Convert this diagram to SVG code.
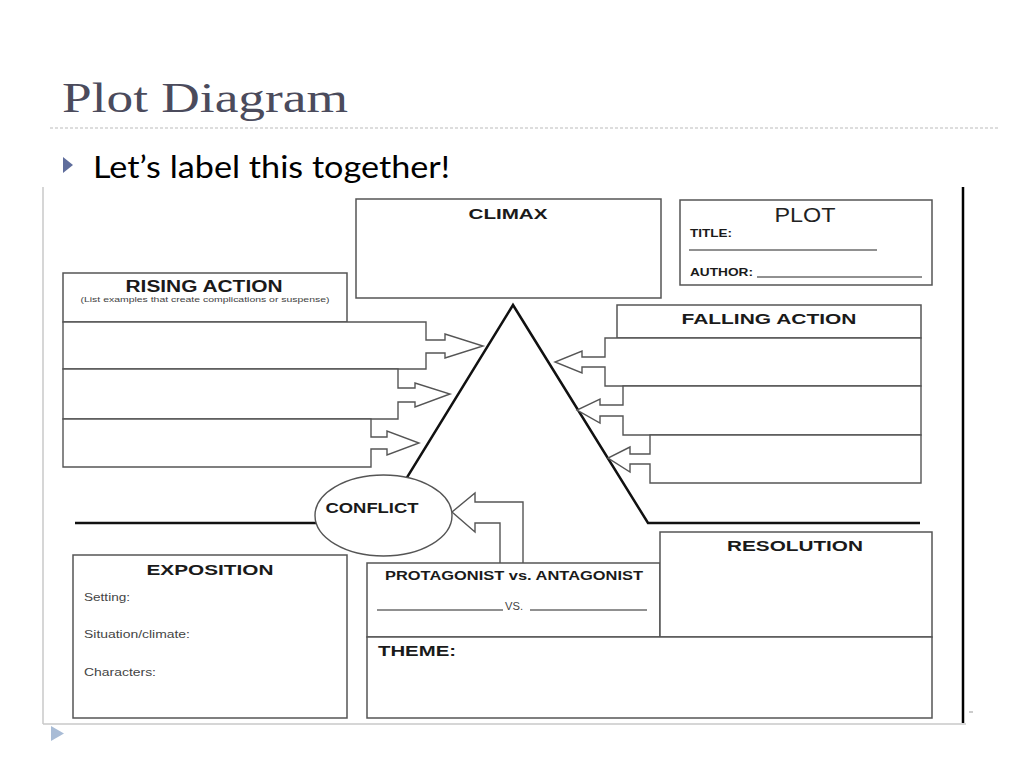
<svg xmlns="http://www.w3.org/2000/svg" width="1024" height="768" viewBox="0 0 1024 768">
<style>
.box{fill:#fff;stroke:#555;stroke-width:1.5}
.row{fill:#fff;stroke:#555;stroke-width:1.4;stroke-linejoin:miter}
.tri{fill:none;stroke:#111;stroke-width:2.5}
.hd{font-family:"Liberation Sans",Arial,sans-serif;font-weight:bold;fill:#1a1a1a}
.sm{font-family:"Liberation Sans",Arial,sans-serif;fill:#444}
.ul{stroke:#222;stroke-width:1}
</style>
<rect width="1024" height="768" fill="#fff"/>
<g id="title">
<text x="62" y="112" font-family="Liberation Serif,serif" font-size="43" fill="#4b4b5c" textLength="286" lengthAdjust="spacingAndGlyphs">Plot Diagram</text>
<line x1="50" y1="128" x2="1000" y2="128" stroke="#bbb" stroke-width="1.2" stroke-dasharray="3,2"/>
<polygon points="63,157 73,165 63,173" fill="#5f6d9c"/>
<text x="93" y="178" font-family="Lato,'Noto Sans',sans-serif" font-size="31" fill="#000" textLength="357" lengthAdjust="spacingAndGlyphs">Let’s label this together!</text>
</g>
<g id="frame">
<line x1="43" y1="187" x2="43" y2="724" stroke="#c8c8c8" stroke-width="1.5"/>
<line x1="43" y1="724" x2="966" y2="724" stroke="#c8c8c8" stroke-width="1.5"/>
<line x1="963" y1="187" x2="963" y2="723" stroke="#000" stroke-width="2.5"/>
<line x1="969" y1="712" x2="973" y2="712" stroke="#999" stroke-width="1"/>
<polygon points="51,726 64,733.5 51,741" fill="#a9bcd6"/>
</g>
<g id="connectors">
<path class="tri" d="M75,523 H379 L513,305 L648,523 H920"/>
<path class="row" d="M523,563 V502 H475 V493 L452,512 L475,532 V523 H500 V563"/>
</g>
<g id="climax">
<rect class="box" x="356" y="199" width="305" height="99"/>
<text class="hd" x="508" y="219" font-size="15" text-anchor="middle" textLength="79" lengthAdjust="spacingAndGlyphs">CLIMAX</text>
</g>
<g id="plot">
<rect class="box" x="680" y="200" width="252" height="85"/>
<text x="805" y="222" font-family="Liberation Sans,Arial,sans-serif" font-size="20" fill="#222" text-anchor="middle" textLength="61" lengthAdjust="spacingAndGlyphs">PLOT</text>
<text class="hd" x="690" y="237" font-size="10" textLength="42" lengthAdjust="spacingAndGlyphs">TITLE:</text>
<line class="ul" x1="689" y1="250" x2="877" y2="250"/>
<text class="hd" x="690" y="276" font-size="10" textLength="63" lengthAdjust="spacingAndGlyphs">AUTHOR:</text>
<line class="ul" x1="757" y1="277" x2="922" y2="277"/>
</g>
<g id="rising-action">
<rect class="box" x="63" y="273" width="284" height="49"/>
<text class="hd" x="204" y="292" font-size="16" text-anchor="middle" textLength="157" lengthAdjust="spacingAndGlyphs">RISING ACTION</text>
<text class="sm" x="205" y="302" font-size="7.5" text-anchor="middle" textLength="249" lengthAdjust="spacingAndGlyphs">(List examples that create complications or suspense)</text>
</g>
<g id="rising-1"><path class="row" d="M63,322 H426 V340 H445 V334 L483,346 L445,358 V353 H426 V369 H63 Z"/></g>
<g id="rising-2"><path class="row" d="M63,369 H398 V388 H415 V383 L450,394 L415,407 V402 H398 V419 H63 Z"/></g>
<g id="rising-3"><path class="row" d="M63,419 H371 V437 H387 V431 L419,443 L387,455 V449 H371 V467 H63 Z"/></g>
<g id="falling-action">
<rect class="box" x="617" y="305" width="304" height="33"/>
<text class="hd" x="769" y="324" font-size="15.5" text-anchor="middle" textLength="175" lengthAdjust="spacingAndGlyphs">FALLING ACTION</text>
</g>
<g id="falling-1"><path class="row" d="M921,338 V386 H605 V367 H582 V373 L555,362 L582,351 V357 H605 V338 Z"/></g>
<g id="falling-2"><path class="row" d="M921,386 V435 H623 V416 H600 V423 L577,410 L600,399 V405 H623 V386 Z"/></g>
<g id="falling-3"><path class="row" d="M921,435 V483 H650 V464 H630 V472 L608,458 L630,447 V454 H650 V435 Z"/></g>
<g id="conflict">
<ellipse cx="383.5" cy="515.5" rx="68.5" ry="40.5" fill="#fff" stroke="#555" stroke-width="1.4"/>
<text class="hd" x="372" y="513" font-size="14" text-anchor="middle" textLength="93" lengthAdjust="spacingAndGlyphs">CONFLICT</text>
</g>
<g id="exposition">
<rect class="box" x="73" y="555" width="274" height="163" stroke="#333"/>
<text class="hd" x="210" y="575" font-size="15" text-anchor="middle" textLength="127" lengthAdjust="spacingAndGlyphs">EXPOSITION</text>
<text class="sm" x="84" y="601" font-size="10.5" textLength="46" lengthAdjust="spacingAndGlyphs">Setting:</text>
<text class="sm" x="84" y="638" font-size="10.5" textLength="106" lengthAdjust="spacingAndGlyphs">Situation/climate:</text>
<text class="sm" x="84" y="676" font-size="10.5" textLength="72" lengthAdjust="spacingAndGlyphs">Characters:</text>
</g>
<g id="protagonist">
<rect class="box" x="367" y="563" width="293" height="74" stroke="#333"/>
<text class="hd" x="514" y="580" font-size="12" text-anchor="middle" textLength="258" lengthAdjust="spacingAndGlyphs">PROTAGONIST vs. ANTAGONIST</text>
<line class="ul" x1="377" y1="610" x2="503" y2="610"/>
<text class="sm" x="505" y="610" font-size="10" textLength="18" lengthAdjust="spacingAndGlyphs">VS.</text>
<line class="ul" x1="530" y1="610" x2="647" y2="610"/>
</g>
<g id="resolution">
<rect class="box" x="660" y="532" width="272" height="105" stroke="#333"/>
<text class="hd" x="795" y="551" font-size="15" text-anchor="middle" textLength="136" lengthAdjust="spacingAndGlyphs">RESOLUTION</text>
</g>
<g id="theme">
<rect class="box" x="367" y="637" width="565" height="81" stroke="#333"/>
<text class="hd" x="378" y="656" font-size="14" textLength="78" lengthAdjust="spacingAndGlyphs">THEME:</text>
</g>
</svg>
